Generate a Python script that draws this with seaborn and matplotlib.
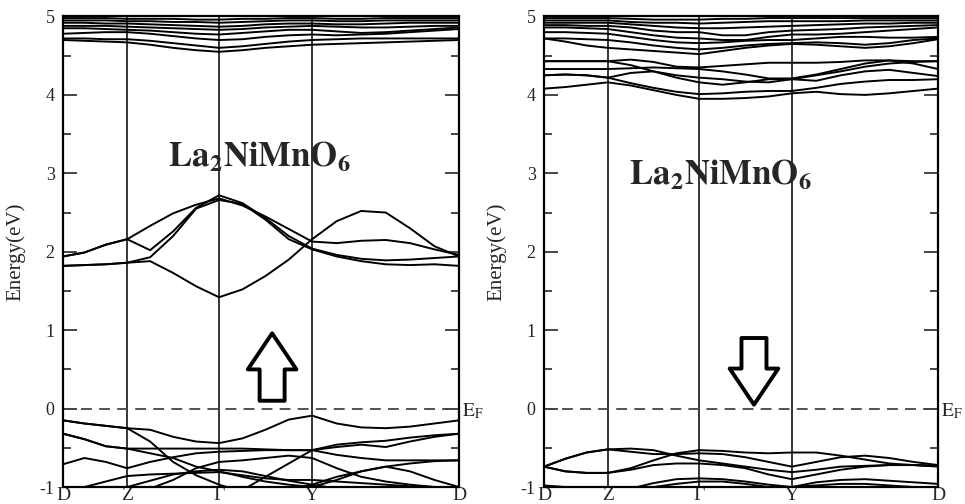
import numpy as np
import pandas as pd
import matplotlib
matplotlib.use("Agg")
import matplotlib.pyplot as plt
from matplotlib.ticker import MultipleLocator
import seaborn as sns

# ---------------- data ----------------
# k-path sample positions (fraction of path length)
K = [0.0, 0.054, 0.108, 0.162, 0.22, 0.278, 0.336, 0.394, 0.453, 0.511,
     0.570, 0.629, 0.691, 0.753, 0.815, 0.876, 0.938, 1.0]
HS_POS = [0.0, 0.162, 0.394, 0.629, 1.0]
HS_LABELS = ["D", "Z", "Γ", "Y", "D"]
Y_TICKS = [-1, 0, 1, 2, 3, 4, 5]

# ---- spin up (left panel) ----
UP_C1 = [1.82, 1.83, 1.84, 1.86, 1.88, 1.73, 1.56, 1.42, 1.52, 1.69, 1.90, 2.16, 2.39, 2.52, 2.50, 2.30, 2.07, 1.94]
UP_C2 = [1.94, 1.99, 2.09, 2.16, 2.33, 2.49, 2.60, 2.68, 2.59, 2.45, 2.29, 2.13, 2.11, 2.14, 2.15, 2.11, 2.03, 1.96]
UP_C3 = [1.94, 1.99, 2.09, 2.16, 2.02, 2.26, 2.56, 2.72, 2.62, 2.43, 2.20, 2.04, 1.96, 1.91, 1.89, 1.90, 1.92, 1.94]
UP_C4 = [1.82, 1.83, 1.84, 1.86, 1.93, 2.20, 2.55, 2.66, 2.61, 2.41, 2.16, 2.03, 1.94, 1.88, 1.84, 1.83, 1.84, 1.82]

UP_V1 = [-0.15, -0.19, -0.22, -0.25, -0.27, -0.36, -0.42, -0.44, -0.38, -0.27, -0.14, -0.09, -0.19, -0.24, -0.25, -0.23, -0.19, -0.15]
UP_V2 = [-0.32, -0.39, -0.48, -0.51, -0.51, -0.51, -0.51, -0.51, -0.51, -0.52, -0.53, -0.53, -0.49, -0.46, -0.49, -0.42, -0.36, -0.32]
UP_V3 = [-0.71, -0.63, -0.68, -0.76, -0.68, -0.62, -0.57, -0.55, -0.54, -0.53, -0.53, -0.53, -0.59, -0.63, -0.66, -0.66, -0.66, -0.66]
UP_V4 = [-0.15, -0.19, -0.22, -0.25, -0.42, -0.68, -0.85, -0.97, -1.06, -1.08, -1.04, -0.97, -0.87, -0.80, -0.74, -0.70, -0.67, -0.66]
UP_V5 = [-1.04, -1.00, -0.93, -0.86, -0.84, -0.83, -0.82, -0.81, -0.85, -0.89, -0.91, -0.91, -0.93, -0.95, -0.97, -0.99, -1.00, -1.00]
UP_V6 = [-0.32, -0.39, -0.48, -0.51, -0.57, -0.63, -0.74, -0.80, -0.87, -0.93, -0.97, -1.00, -0.91, -0.80, -0.74, -0.80, -0.91, -1.00]
UP_V7 = [-1.08, -1.08, -1.06, -1.04, -1.02, -0.91, -0.76, -0.68, -0.66, -0.63, -0.60, -0.63, -0.76, -0.87, -0.93, -0.97, -1.00, -1.00]
UP_V8 = [-1.20, -1.20, -1.20, -1.20, -1.20, -1.20, -1.15, -1.12, -1.04, -0.87, -0.70, -0.53, -0.46, -0.43, -0.41, -0.37, -0.34, -0.32]
UP_V9 = [-1.10, -1.08, -1.04, -1.00, -0.92, -0.84, -0.80, -0.78, -0.80, -0.86, -0.92, -0.97, -1.02, -1.05, -1.05, -1.03, -1.01, -1.00]

UP_T1 = [4.70, 4.69, 4.68, 4.67, 4.64, 4.60, 4.57, 4.55, 4.57, 4.60, 4.62, 4.64, 4.65, 4.66, 4.67, 4.68, 4.69, 4.70]
UP_T2 = [4.72, 4.72, 4.71, 4.71, 4.69, 4.66, 4.63, 4.60, 4.62, 4.65, 4.68, 4.70, 4.71, 4.72, 4.72, 4.72, 4.72, 4.72]
UP_T3 = [4.78, 4.79, 4.80, 4.80, 4.78, 4.75, 4.72, 4.70, 4.71, 4.74, 4.76, 4.77, 4.76, 4.77, 4.78, 4.80, 4.82, 4.84]
UP_T4 = [4.85, 4.85, 4.84, 4.83, 4.82, 4.80, 4.78, 4.77, 4.79, 4.81, 4.83, 4.83, 4.81, 4.79, 4.80, 4.82, 4.84, 4.86]
UP_T5 = [4.88, 4.88, 4.88, 4.87, 4.86, 4.85, 4.84, 4.83, 4.84, 4.86, 4.87, 4.88, 4.87, 4.86, 4.86, 4.87, 4.88, 4.88]
UP_T6 = [4.92, 4.92, 4.91, 4.91, 4.90, 4.89, 4.88, 4.87, 4.88, 4.90, 4.91, 4.91, 4.90, 4.90, 4.91, 4.92, 4.92, 4.92]
UP_T7 = [4.95, 4.95, 4.95, 4.94, 4.94, 4.93, 4.93, 4.92, 4.93, 4.94, 4.95, 4.95, 4.94, 4.94, 4.95, 4.95, 4.95, 4.95]
UP_T8 = [4.98, 4.98, 4.98, 4.97, 4.97, 4.97, 4.96, 4.96, 4.97, 4.97, 4.98, 4.98, 4.97, 4.97, 4.98, 4.98, 4.98, 4.98]

# ---- spin down (right panel) ----
DN_B1 = [4.08, 4.10, 4.13, 4.16, 4.12, 4.06, 4.00, 3.95, 3.95, 3.96, 3.98, 4.02, 4.04, 4.01, 4.00, 4.02, 4.05, 4.08]
DN_B2 = [4.25, 4.26, 4.25, 4.22, 4.15, 4.09, 4.04, 4.01, 4.02, 4.04, 4.05, 4.05, 4.09, 4.14, 4.17, 4.19, 4.19, 4.20]
DN_B3 = [4.25, 4.26, 4.25, 4.22, 4.28, 4.30, 4.22, 4.16, 4.13, 4.16, 4.20, 4.20, 4.18, 4.25, 4.30, 4.32, 4.28, 4.24]
DN_B4 = [4.43, 4.43, 4.43, 4.43, 4.45, 4.42, 4.36, 4.35, 4.37, 4.39, 4.41, 4.41, 4.41, 4.42, 4.44, 4.44, 4.43, 4.43]
DN_B5 = [4.43, 4.43, 4.43, 4.43, 4.38, 4.30, 4.25, 4.22, 4.20, 4.17, 4.16, 4.20, 4.25, 4.30, 4.36, 4.40, 4.42, 4.43]
DN_B6 = [4.33, 4.33, 4.33, 4.33, 4.34, 4.35, 4.34, 4.33, 4.30, 4.26, 4.21, 4.21, 4.26, 4.33, 4.40, 4.44, 4.40, 4.33]

DN_T1 = [4.72, 4.68, 4.63, 4.60, 4.58, 4.56, 4.54, 4.52, 4.56, 4.60, 4.63, 4.65, 4.64, 4.62, 4.60, 4.62, 4.66, 4.71]
DN_T2 = [4.72, 4.72, 4.71, 4.70, 4.67, 4.63, 4.60, 4.58, 4.60, 4.63, 4.65, 4.66, 4.67, 4.66, 4.64, 4.66, 4.70, 4.72]
DN_T3 = [4.80, 4.80, 4.79, 4.78, 4.74, 4.70, 4.67, 4.66, 4.67, 4.69, 4.70, 4.70, 4.72, 4.74, 4.74, 4.73, 4.73, 4.74]
DN_T4 = [4.86, 4.86, 4.85, 4.84, 4.80, 4.76, 4.73, 4.72, 4.70, 4.70, 4.74, 4.77, 4.77, 4.78, 4.80, 4.82, 4.84, 4.86]
DN_T5 = [4.89, 4.89, 4.88, 4.88, 4.86, 4.82, 4.80, 4.80, 4.76, 4.76, 4.80, 4.82, 4.83, 4.84, 4.86, 4.87, 4.88, 4.89]
DN_T6 = [4.92, 4.92, 4.92, 4.92, 4.90, 4.88, 4.86, 4.85, 4.85, 4.86, 4.87, 4.88, 4.89, 4.90, 4.91, 4.91, 4.92, 4.92]
DN_T7 = [4.95, 4.95, 4.95, 4.95, 4.93, 4.92, 4.92, 4.91, 4.92, 4.93, 4.94, 4.94, 4.94, 4.94, 4.95, 4.95, 4.95, 4.95]
DN_T8 = [4.98, 4.98, 4.98, 4.98, 4.97, 4.96, 4.96, 4.96, 4.97, 4.97, 4.98, 4.98, 4.98, 4.98, 4.98, 4.98, 4.98, 4.98]

DN_V1 = [-0.74, -0.64, -0.56, -0.52, -0.51, -0.53, -0.60, -0.66, -0.70, -0.74, -0.78, -0.81, -0.78, -0.74, -0.73, -0.72, -0.72, -0.73]
DN_V2 = [-0.74, -0.80, -0.82, -0.82, -0.76, -0.66, -0.57, -0.53, -0.54, -0.56, -0.57, -0.56, -0.56, -0.60, -0.65, -0.70, -0.72, -0.73]
DN_V3 = [-0.74, -0.64, -0.56, -0.52, -0.55, -0.58, -0.58, -0.57, -0.58, -0.62, -0.68, -0.74, -0.68, -0.62, -0.60, -0.63, -0.68, -0.72]
DN_V4 = [-0.74, -0.80, -0.82, -0.82, -0.78, -0.72, -0.70, -0.70, -0.72, -0.76, -0.84, -0.90, -0.84, -0.78, -0.74, -0.72, -0.72, -0.74]
DN_V5 = [-0.98, -1.00, -1.05, -1.05, -1.02, -0.95, -0.90, -0.89, -0.90, -0.93, -0.97, -1.00, -0.94, -0.91, -0.90, -0.92, -0.94, -0.96]
DN_V6 = [-1.10, -1.10, -1.10, -1.10, -1.06, -1.00, -0.96, -0.93, -0.93, -0.96, -1.00, -1.00, -0.98, -0.96, -0.96, -0.98, -1.00, -1.02]

UP_BANDS = {"c1": UP_C1, "c2": UP_C2, "c3": UP_C3, "c4": UP_C4,
            "v1": UP_V1, "v2": UP_V2, "v3": UP_V3, "v4": UP_V4, "v5": UP_V5,
            "v6": UP_V6, "v7": UP_V7, "v8": UP_V8, "v9": UP_V9,
            "t1": UP_T1, "t2": UP_T2, "t3": UP_T3, "t4": UP_T4,
            "t5": UP_T5, "t6": UP_T6, "t7": UP_T7, "t8": UP_T8}
DN_BANDS = {"b1": DN_B1, "b2": DN_B2, "b3": DN_B3, "b4": DN_B4, "b5": DN_B5, "b6": DN_B6,
            "t1": DN_T1, "t2": DN_T2, "t3": DN_T3, "t4": DN_T4,
            "t5": DN_T5, "t6": DN_T6, "t7": DN_T7, "t8": DN_T8,
            "v1": DN_V1, "v2": DN_V2, "v3": DN_V3, "v4": DN_V4, "v5": DN_V5, "v6": DN_V6}


def to_long(bands):
    rows = []
    for name, vals in bands.items():
        for kk, e in zip(K, vals):
            rows.append({"k": kk, "E": e, "band": name})
    return pd.DataFrame(rows)


df_up = to_long(UP_BANDS)
df_dn = to_long(DN_BANDS)

# ---------------- style ----------------
sns.set_style("white")
plt.rcParams["font.family"] = ["Liberation Serif", "DejaVu Serif"]
plt.rcParams["mathtext.fontset"] = "stix"

fig = plt.figure(figsize=(9.65, 5.04), dpi=100)
ax1 = fig.add_axes([0.0653, 0.0337, 0.4104, 0.9336])
ax2 = fig.add_axes([0.5637, 0.0337, 0.4083, 0.9336])


def draw(ax, df, title_xy, arrow_from, arrow_to):
    sns.lineplot(data=df, x="k", y="E", units="band", estimator=None, sort=False,
                 color="black", lw=1.4, ax=ax, legend=False)
    for p in HS_POS[1:-1]:
        ax.axvline(p, color="black", lw=1.1, zorder=1)
    ax.axhline(0, color="#444444", lw=1.3, dashes=(6, 4), zorder=1)
    ax.set_xlim(0, 1)
    ax.set_ylim(-1, 5)
    ax.set_xticks(HS_POS)
    ax.set_xticklabels(HS_LABELS, fontsize=14)
    ax.tick_params(axis="x", length=0, pad=0)
    ax.set_yticks(Y_TICKS)
    ax.set_yticklabels([str(t) for t in Y_TICKS], fontsize=13)
    ax.yaxis.set_minor_locator(MultipleLocator(0.5))
    ax.tick_params(axis="y", which="both", direction="in", left=True, right=True, width=1.2)
    ax.tick_params(axis="y", which="major", length=10, pad=6)
    ax.tick_params(axis="y", which="minor", length=6)
    ax.set_xlabel("")
    ax.set_ylabel("Energy(eV)", fontsize=15, labelpad=10)
    for s in ax.spines.values():
        s.set_linewidth(1.6)
        s.set_color("black")
    ax.text(title_xy[0], title_xy[1], r"$\mathbf{La_2NiMnO_6}$", fontsize=25,
            ha="center", va="center")
    ax.text(1.008, -0.03, r"$\mathrm{E_F}$", fontsize=14, ha="left", va="center",
            transform=ax.get_yaxis_transform(), clip_on=False)
    ax.annotate("", xy=arrow_to, xytext=arrow_from,
                arrowprops=dict(arrowstyle="simple,head_length=1.3,head_width=1.75,tail_width=0.9",
                                fc="white", ec="black", lw=2.8, shrinkA=0, shrinkB=0,
                                mutation_scale=20))


draw(ax1, df_up, (0.495, 3.21), (0.528, 0.10), (0.528, 0.96))
draw(ax2, df_dn, (0.447, 2.97), (0.533, 0.90), (0.533, 0.05))

fig.savefig("out.png", dpi=100)
